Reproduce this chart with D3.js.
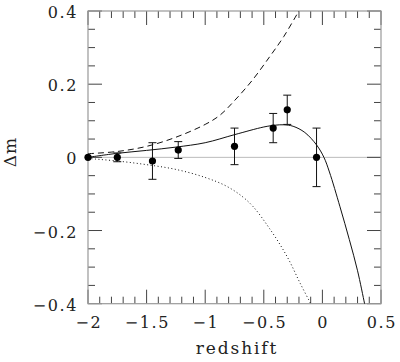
<!DOCTYPE html>
<html><head><meta charset="utf-8">
<script src="https://cdn.jsdelivr.net/npm/d3@7"></script>
<style>body{margin:0;background:#fff}svg{display:block}text{font-family:"DejaVu Serif","Liberation Serif",serif;fill:#222}</style>
</head><body>
<svg id="c" width="400" height="362"></svg>
<script>
// data points: redshift, delta m, error
const pointX = [-2.0, -1.75, -1.45, -1.23, -0.75, -0.42, -0.30, -0.05];
const pointY = [0.0, 0.0, -0.01, 0.02, 0.03, 0.08, 0.13, 0.0];
const pointErr = [0.0, 0.012, 0.05, 0.023, 0.05, 0.04, 0.04, 0.08];

// model curves
const solidX = [-2.0, -1.75, -1.5, -1.25, -1.0, -0.75, -0.5, -0.4, -0.33, -0.25, -0.15, -0.05, 0.013, 0.06, 0.15, 0.23, 0.3, 0.36, 0.37];
const solidY = [0.0, 0.011, 0.019, 0.028, 0.040, 0.062, 0.083, 0.088, 0.089, 0.085, 0.068, 0.034, 0.0, -0.04, -0.135, -0.225, -0.31, -0.4, -0.415];
const dashX = [-2.0, -1.75, -1.5, -1.25, -1.0, -0.875, -0.75, -0.6, -0.45, -0.33, -0.2, -0.18];
const dashY = [0.01, 0.016, 0.03, 0.055, 0.09, 0.115, 0.155, 0.21, 0.275, 0.33, 0.4, 0.41];
const dotX = [-2.0, -1.75, -1.5, -1.25, -1.0, -0.8, -0.62, -0.45, -0.3, -0.19, -0.1, -0.09];
const dotY = [-0.003, -0.01, -0.02, -0.033, -0.055, -0.082, -0.125, -0.195, -0.272, -0.344, -0.4, -0.407];

const xMajor = [-2, -1.5, -1, -0.5, 0, 0.5];
const xLabels = ["\u22122", "\u22121.5", "\u22121", "\u22120.5", "0", "0.5"];
const yMajor = [-0.4, -0.2, 0, 0.2, 0.4];
const yLabels = ["\u22120.4", "\u22120.2", "0", "0.2", "0.4"];

const svg = d3.select("#c");
const L = 88, R = 381, T = 11, B = 303.7;
const x = d3.scaleLinear().domain([-2, 0.5]).range([L, R]);
const y = d3.scaleLinear().domain([-0.4, 0.4]).range([B, T]);

const g = svg.append("g");
// zero line
g.append("line").attr("x1", L).attr("x2", R).attr("y1", y(0)).attr("y2", y(0))
  .attr("stroke", "#bbb").attr("stroke-width", 1);

// ticks
const xMinor = d3.range(-2, 0.501, 0.1).map(v => +v.toFixed(2));
const yMinor = d3.range(-0.4, 0.401, 0.05).map(v => +v.toFixed(3));
const isMaj = (v, arr) => arr.some(a => Math.abs(a - v) < 1e-6);
const tk = g.append("g").attr("stroke", "#444").attr("stroke-width", 1);
xMinor.forEach(v => {
  const len = isMaj(v, xMajor) ? 14 : 7;
  tk.append("line").attr("x1", x(v)).attr("x2", x(v)).attr("y1", B).attr("y2", B - len);
  tk.append("line").attr("x1", x(v)).attr("x2", x(v)).attr("y1", T).attr("y2", T + len);
});
yMinor.forEach(v => {
  const len = isMaj(v, yMajor) ? 14 : 7;
  tk.append("line").attr("y1", y(v)).attr("y2", y(v)).attr("x1", L).attr("x2", L + len);
  tk.append("line").attr("y1", y(v)).attr("y2", y(v)).attr("x1", R).attr("x2", R - len);
});

// frame
g.append("rect").attr("x", L).attr("y", T).attr("width", R - L).attr("height", B - T)
  .attr("fill", "none").attr("stroke", "#999").attr("stroke-width", 1.2);

// labels
xMajor.forEach((v, i) => {
  g.append("text").attr("x", x(v) + 0.8).attr("y", 328).attr("text-anchor", "middle")
    .attr("font-size", 16).attr("letter-spacing", 1.6).text(xLabels[i]);
});
yMajor.forEach((v, i) => {
  g.append("text").attr("x", 78).attr("y", y(v) + 7).attr("text-anchor", "end")
    .attr("font-size", 16).attr("letter-spacing", 1.6).text(yLabels[i]);
});
g.append("text").attr("x", 237).attr("y", 354).attr("text-anchor", "middle")
  .attr("font-size", 17).attr("letter-spacing", 1.9).text("redshift");
g.append("text").attr("transform", "translate(16,152) rotate(-90)").attr("text-anchor", "middle")
  .attr("font-size", 17).attr("letter-spacing", 1).text("\u0394m");

// curves
const clip = svg.append("clipPath").attr("id", "clp").append("rect")
  .attr("x", L).attr("y", T).attr("width", R - L).attr("height", B - T);
const line = d3.line().x(d => x(d[0])).y(d => y(d[1])).curve(d3.curveCatmullRom.alpha(0.5));
const cg = g.append("g").attr("clip-path", "url(#clp)").attr("fill", "none").attr("stroke", "#111").attr("stroke-width", 1);
cg.append("path").attr("d", line(d3.zip(solidX, solidY)));
cg.append("path").attr("d", line(d3.zip(dashX, dashY))).attr("stroke-dasharray", "6,4");
cg.append("path").attr("d", line(d3.zip(dotX, dotY))).attr("stroke-dasharray", "1,2.5");

// error bars and points
const pts = d3.range(pointX.length).map(i => ({x: pointX[i], y: pointY[i], e: pointErr[i]}));
const eg = g.append("g").attr("stroke", "#111").attr("stroke-width", 1);
pts.filter(d => d.e > 0).forEach(d => {
  eg.append("line").attr("x1", x(d.x)).attr("x2", x(d.x)).attr("y1", y(d.y + d.e)).attr("y2", y(d.y - d.e));
  [d.y + d.e, d.y - d.e].forEach(v => eg.append("line").attr("x1", x(d.x) - 4).attr("x2", x(d.x) + 4).attr("y1", y(v)).attr("y2", y(v)));
});
g.append("g").selectAll("circle").data(pts).join("circle")
  .attr("cx", d => x(d.x)).attr("cy", d => y(d.y)).attr("r", 3.6).attr("fill", "#000");
</script>
</body></html>
